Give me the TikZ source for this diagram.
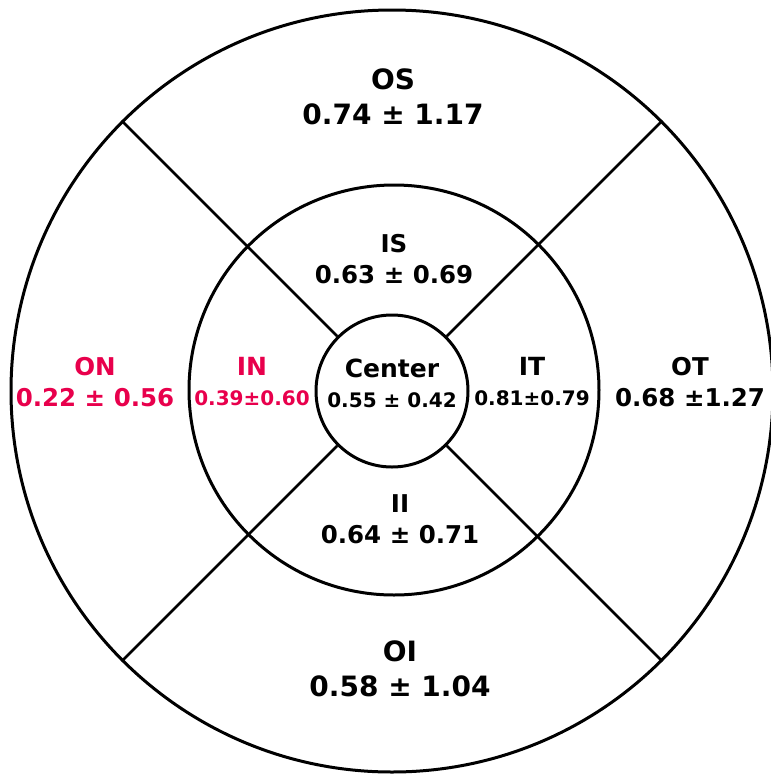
\documentclass[tikz,border=0pt]{standalone}
\usepackage{fontspec}
\setmainfont{DejaVu Sans}
\usepackage{xcolor}
\definecolor{nasalred}{RGB}{232,0,76}
\tikzset{
    ring/.style = {draw, circle, line width=3pt, inner sep=0pt},
    spoke/.style = {line width=2.8pt},
    zone-big/.style = {align=center, font=\fontsize{28}{35}\selectfont\bfseries},
    zone-mid/.style = {align=center, font=\fontsize{24.5}{31}\selectfont\bfseries},
    zone-small/.style = {align=center, font=\fontsize{25}{30}\selectfont\bfseries},
}
\newcommand{\valsmall}[1]{{\fontsize{20}{30}\selectfont #1}}

\begin{document}
\begin{tikzpicture}[x=1pt,y=-1pt]
\useasboundingbox (0,0) rectangle (771,777);
% the three rings
\node[ring, minimum size=762pt] (outer) at (392,391) {};
\node[ring, minimum size=410pt] (middle) at (394,390) {};
\node[ring, minimum size=152pt] (inner) at (392,391) {};
\foreach \a in {45,135,225,315}
    \draw[spoke] (inner.\a) -- (outer.\a);
% outer zones
\node[zone-big] (os) at (393,97) {OS\\0.74 ± 1.17};
\node[zone-big] (oi) at (400,669) {OI\\0.58 ± 1.04};
\node[zone-mid, text=nasalred] (on) at (95,382) {ON\\0.22 ± 0.56};
\node[zone-mid] (ot) at (690,382) {OT\\0.68 ±1.27};
% inner zones
\node[zone-mid] (is) at (394,259) {IS\\0.63 ± 0.69};
\node[zone-mid] (ii) at (400,519) {II\\0.64 ± 0.71};
\node[zone-small, text=nasalred] (in) at (252,382) {IN\\\valsmall{0.39±0.60}};
\node[zone-small] (it) at (532,382) {IT\\\valsmall{0.81±0.79}};
\node[zone-small] (fovea) at (392,383) {Center\\\valsmall{0.55 ± 0.42}};
\end{tikzpicture}
\end{document}
